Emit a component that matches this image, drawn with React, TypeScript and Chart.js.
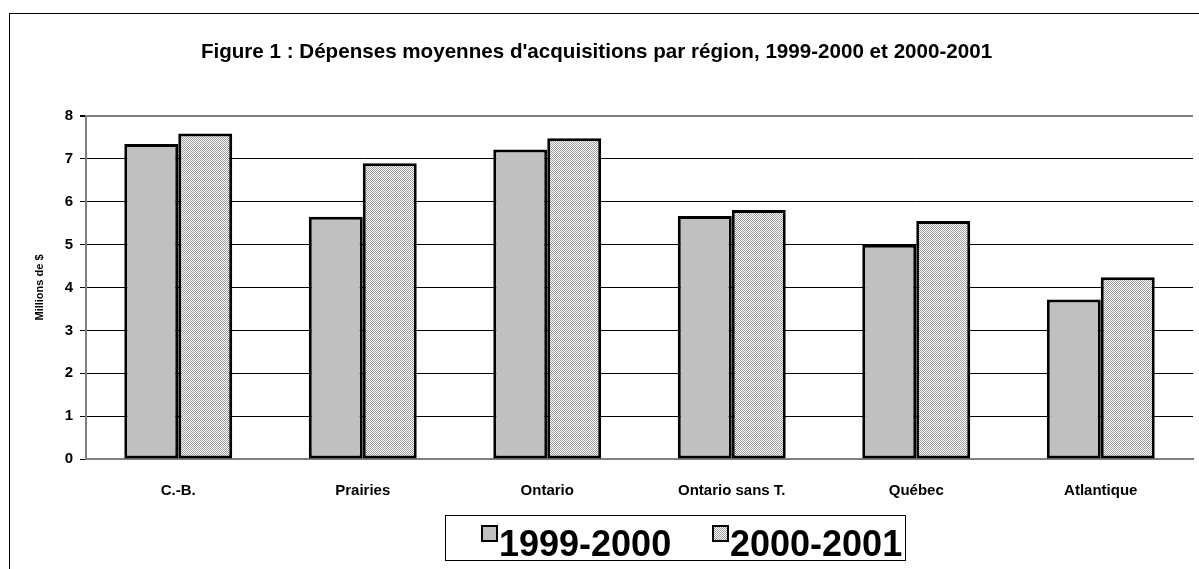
import React, { useEffect, useRef } from "react";
import { Chart, registerables } from "chart.js";

Chart.register(...registerables);

const categories = ["C.-B.", "Prairies", "Ontario", "Ontario sans T.", "Québec", "Atlantique"];
const values1999 = [7.35, 5.65, 7.22, 5.67, 5.0, 3.72];
const values2000 = [7.59, 6.9, 7.48, 5.81, 5.55, 4.24];
const seriesLabels = ["1999-2000", "2000-2001"];
const yMin = 0;
const yMax = 8;
const yStep = 1;
const titleText = "Figure 1 : Dépenses moyennes d'acquisitions par région, 1999-2000 et 2000-2001";
const yTitleText = "Millions de $";

const FONT = "'Liberation Sans', Arial, Helvetica, sans-serif";

function makePattern(ctx: CanvasRenderingContext2D): CanvasPattern | string {
  const c = document.createElement("canvas");
  c.width = 2;
  c.height = 2;
  const g = c.getContext("2d");
  if (!g) return "#cccccc";
  g.fillStyle = "#ffffff";
  g.fillRect(0, 0, 2, 2);
  g.fillStyle = "#9a9a9a";
  g.fillRect(0, 0, 1, 1);
  g.fillRect(1, 1, 1, 1);
  return ctx.createPattern(c, "repeat") || "#cccccc";
}

const framePlugin = {
  id: "frameAndLegend",
  afterDraw(chart: any) {
    const ctx: CanvasRenderingContext2D = chart.ctx;
    ctx.save();
    // outer frame
    ctx.strokeStyle = "#000000";
    ctx.lineWidth = 1;
    ctx.strokeRect(9.5, 13.5, 1400, 800);

    // legend box
    const bx = 445.5, by = 515.5, bw = 460, bh = 45;
    ctx.strokeStyle = "#000000";
    ctx.lineWidth = 1;
    ctx.strokeRect(bx, by, bw, bh);

    const items = chart.data.datasets.map((d: any) => ({ label: d.label, fill: d.backgroundColor }));
    const starts = [481, 712];
    ctx.font = `bold 36px ${FONT}`;
    ctx.textBaseline = "alphabetic";
    ctx.textAlign = "left";
    items.forEach((it: any, i: number) => {
      const sx = starts[i];
      const sy = 525;
      const s = 17;
      ctx.fillStyle = it.fill;
      ctx.fillRect(sx, sy, s, s);
      ctx.strokeStyle = "#000000";
      ctx.lineWidth = 2;
      ctx.strokeRect(sx + 1, sy + 1, s - 2, s - 2);
      ctx.fillStyle = "#000000";
      ctx.fillText(it.label, sx + s + 1, 556);
    });
    ctx.restore();
  },
};

export default function App() {
  const canvasRef = useRef<HTMLCanvasElement | null>(null);

  useEffect(() => {
    const canvas = canvasRef.current;
    if (!canvas) return;
    const ctx = canvas.getContext("2d");
    if (!ctx) return;
    const pattern = makePattern(ctx);

    const chart = new Chart(ctx, {
      type: "bar",
      data: {
        labels: categories,
        datasets: [
          {
            label: seriesLabels[0],
            data: values1999,
            backgroundColor: "#c0c0c0",
            borderColor: "#000000",
            borderWidth: 3,
            borderSkipped: false,
            categoryPercentage: 0.585,
            barPercentage: 1.0,
          },
          {
            label: seriesLabels[1],
            data: values2000,
            backgroundColor: pattern as any,
            borderColor: "#000000",
            borderWidth: 3,
            borderSkipped: false,
            categoryPercentage: 0.585,
            barPercentage: 1.0,
          },
        ],
      },
      options: {
        animation: false,
        responsive: true,
        maintainAspectRatio: false,
        layout: { padding: { left: 0, right: 6, top: 0, bottom: 0 } },
        plugins: {
          legend: { display: false },
          tooltip: { enabled: false },
          title: {
            display: true,
            text: titleText,
            color: "#000000",
            font: { family: FONT, size: 20.6, weight: "bold" },
            padding: { top: 40, bottom: 51.3 },
          },
        },
        scales: {
          x: {
            offset: true,
            grid: { display: false, drawTicks: false },
            border: { display: true, color: "#808080", width: 2 },
            ticks: {
              color: "#000000",
              font: { family: FONT, size: 15, weight: "bold" },
              padding: 23,
              maxRotation: 0,
            },
            afterFit: (s: any) => {
              s.height = 110;
            },
          },
          y: {
            min: yMin,
            max: yMax,
            ticks: {
              stepSize: yStep,
              color: "#000000",
              font: { family: FONT, size: 15, weight: "bold" },
              padding: 7,
            },
            grid: {
              color: (c: any) => (c.tick && c.tick.value === yMax ? "#808080" : "#000000"),
              lineWidth: (c: any) => (c.tick && c.tick.value === yMax ? 2 : 1),
              drawTicks: true,
              tickLength: 6,
              tickColor: "#000000",
            },
            border: { display: true, color: "#808080", width: 2 },
            title: {
              display: true,
              text: yTitleText,
              color: "#000000",
              font: { family: FONT, size: 11, weight: "bold" },
              padding: { top: 33.4, bottom: 0 },
            },
            afterFit: (s: any) => {
              s.width = 86;
            },
          },
        },
      },
      plugins: [framePlugin],
    });

    return () => {
      chart.destroy();
    };
  }, []);

  return (
    <div style={{ position: "fixed", left: 0, top: 0, width: 1199, height: 569, background: "#ffffff" }}>
      <canvas ref={canvasRef} />
    </div>
  );
}
